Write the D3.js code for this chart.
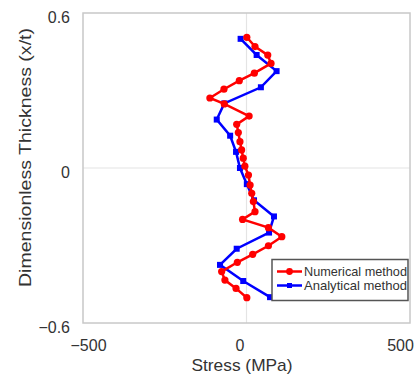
<!DOCTYPE html>
<html>
<head>
<meta charset="utf-8">
<script src="https://cdn.jsdelivr.net/npm/d3@7"></script>
<style>
  body { margin: 0; background: #fff; }
  svg { display: block; }
  text { font-family: "Liberation Sans", Arial, sans-serif; fill: #333; }
</style>
</head>
<body>
<svg id="chart" width="419" height="378"></svg>
<script>
// numerical method (red)
const numThickness = [0.506, 0.470, 0.437, 0.405, 0.367, 0.338, 0.305, 0.271, 0.248, 0.201,
  0.169, 0.137, 0.102, 0.070, 0.038, 0.007, -0.027, -0.066, -0.098, -0.130,
  -0.169, -0.199, -0.231, -0.266, -0.301, -0.334, -0.365, -0.401, -0.434, -0.466, -0.502];
const numStress = [1, 26, 65, 75, 24, -22, -69, -112, -68, 8,
  -30, -25, -20, -15, -10, -5, 6, 11, 16, 21,
  26, -12, 67, 108, 67, 19, -28, -76, -66, -32, 1];

// analytical method (blue)
const anaThickness = [0.5, 0.4375, 0.375, 0.3125, 0.25, 0.1875, 0.125, 0.0625, 0,
  -0.0625, -0.125, -0.1875, -0.25, -0.3125, -0.375, -0.4375, -0.5];
const anaStress = [-18, 31, 92, 44, -68, -91, -50, -32, -20,
  1, 23, 84, 69, -30, -81, -10, 72];

const xTicks = [-500, 0, 500];
const yTicks = [-0.6, 0, 0.6];

const svg = d3.select("#chart");

const x = d3.scaleLinear().domain([-500, 500]).range([83, 410]);
const y = d3.scaleLinear().domain([-0.6, 0.6]).range([323, 13]);

// zero grid lines
svg.append("line")
  .attr("x1", x(0)).attr("x2", x(0)).attr("y1", y(0.6)).attr("y2", y(-0.6))
  .attr("stroke", "#e4e4e4").attr("stroke-width", 1.2);
svg.append("line")
  .attr("x1", x(-500)).attr("x2", x(500)).attr("y1", y(0)).attr("y2", y(0))
  .attr("stroke", "#e4e4e4").attr("stroke-width", 1.2);

// frame
svg.append("rect")
  .attr("x", x(-500)).attr("y", y(0.6))
  .attr("width", x(500) - x(-500)).attr("height", y(-0.6) - y(0.6))
  .attr("fill", "none").attr("stroke", "#c8c8c8").attr("stroke-width", 1.5);

// axes
const fmt = d => d < 0 ? "\u2212" + Math.abs(d) : String(d);

const gx = svg.append("g")
  .attr("transform", "translate(0," + y(-0.6) + ")")
  .call(d3.axisBottom(x).tickValues(xTicks).tickSize(0).tickFormat(fmt));
gx.select(".domain").remove();
// labels in the original sit a little off their ticks
const xLabelShift = { "-500": 5, "0": -7, "500": -10 };
gx.selectAll("text").attr("dy", 0).attr("y", 28)
  .attr("dx", d => xLabelShift[String(d)])
  .style("font-size", "16px").style("font-family", null).attr("fill", "#333");

const gy = svg.append("g")
  .attr("transform", "translate(" + x(-500) + ",0)")
  .call(d3.axisLeft(y).tickValues(yTicks).tickSize(0).tickFormat(fmt));
gy.select(".domain").remove();
gy.selectAll("text").attr("x", -13).attr("dy", "0.6em")
  .style("font-size", "16px").style("font-family", null).attr("fill", "#333");

// axis titles
svg.append("text")
  .attr("x", 242).attr("y", 371)
  .attr("text-anchor", "middle")
  .attr("textLength", 101).attr("lengthAdjust", "spacingAndGlyphs")
  .style("font-size", "17px")
  .text("Stress (MPa)");

svg.append("text")
  .attr("transform", "translate(31,157.5) rotate(-90)")
  .attr("text-anchor", "middle")
  .attr("textLength", 259).attr("lengthAdjust", "spacingAndGlyphs")
  .style("font-size", "16px")
  .text("Dimensionless Thickness (x/t)");

// series
const numData = numStress.map((s, i) => ({ s: s, t: numThickness[i] }));
const anaData = anaStress.map((s, i) => ({ s: s, t: anaThickness[i] }));

const line = d3.line().x(d => x(d.s)).y(d => y(d.t));

svg.append("path").datum(anaData)
  .attr("d", line).attr("fill", "none")
  .attr("stroke", "#0000ff").attr("stroke-width", 2.5);
svg.selectAll(".ana").data(anaData).enter().append("rect")
  .attr("class", "ana")
  .attr("x", d => x(d.s) - 3).attr("y", d => y(d.t) - 3)
  .attr("width", 6).attr("height", 6)
  .attr("fill", "#0000ff");

svg.append("path").datum(numData)
  .attr("d", line).attr("fill", "none")
  .attr("stroke", "#ff0000").attr("stroke-width", 2.5);
svg.selectAll(".num").data(numData).enter().append("circle")
  .attr("class", "num")
  .attr("cx", d => x(d.s)).attr("cy", d => y(d.t))
  .attr("r", 3.6)
  .attr("fill", "#ff0000");

// legend
const legend = svg.append("g");
legend.append("rect")
  .attr("x", 272).attr("y", 259.5).attr("width", 136).attr("height", 41)
  .attr("fill", "#fff").attr("stroke", "#555").attr("stroke-width", 1.5);

const legendItems = [
  { name: "Numerical method", color: "#ff0000", mark: "circle" },
  { name: "Analytical method", color: "#0000ff", mark: "square" }
];
legendItems.forEach((it, i) => {
  const cy = 271.5 + i * 14;
  legend.append("line")
    .attr("x1", 277).attr("x2", 302).attr("y1", cy).attr("y2", cy)
    .attr("stroke", it.color).attr("stroke-width", 2.5);
  if (it.mark === "circle")
    legend.append("circle").attr("cx", 289.5).attr("cy", cy).attr("r", 3.4).attr("fill", it.color);
  else
    legend.append("rect").attr("x", 287).attr("y", cy - 2.5).attr("width", 5).attr("height", 5).attr("fill", it.color);
  legend.append("text")
    .attr("x", 304).attr("y", cy + 4.5)
    .attr("textLength", 103).attr("lengthAdjust", "spacingAndGlyphs")
    .style("font-size", "13px")
    .text(it.name);
});
</script>
</body>
</html>
